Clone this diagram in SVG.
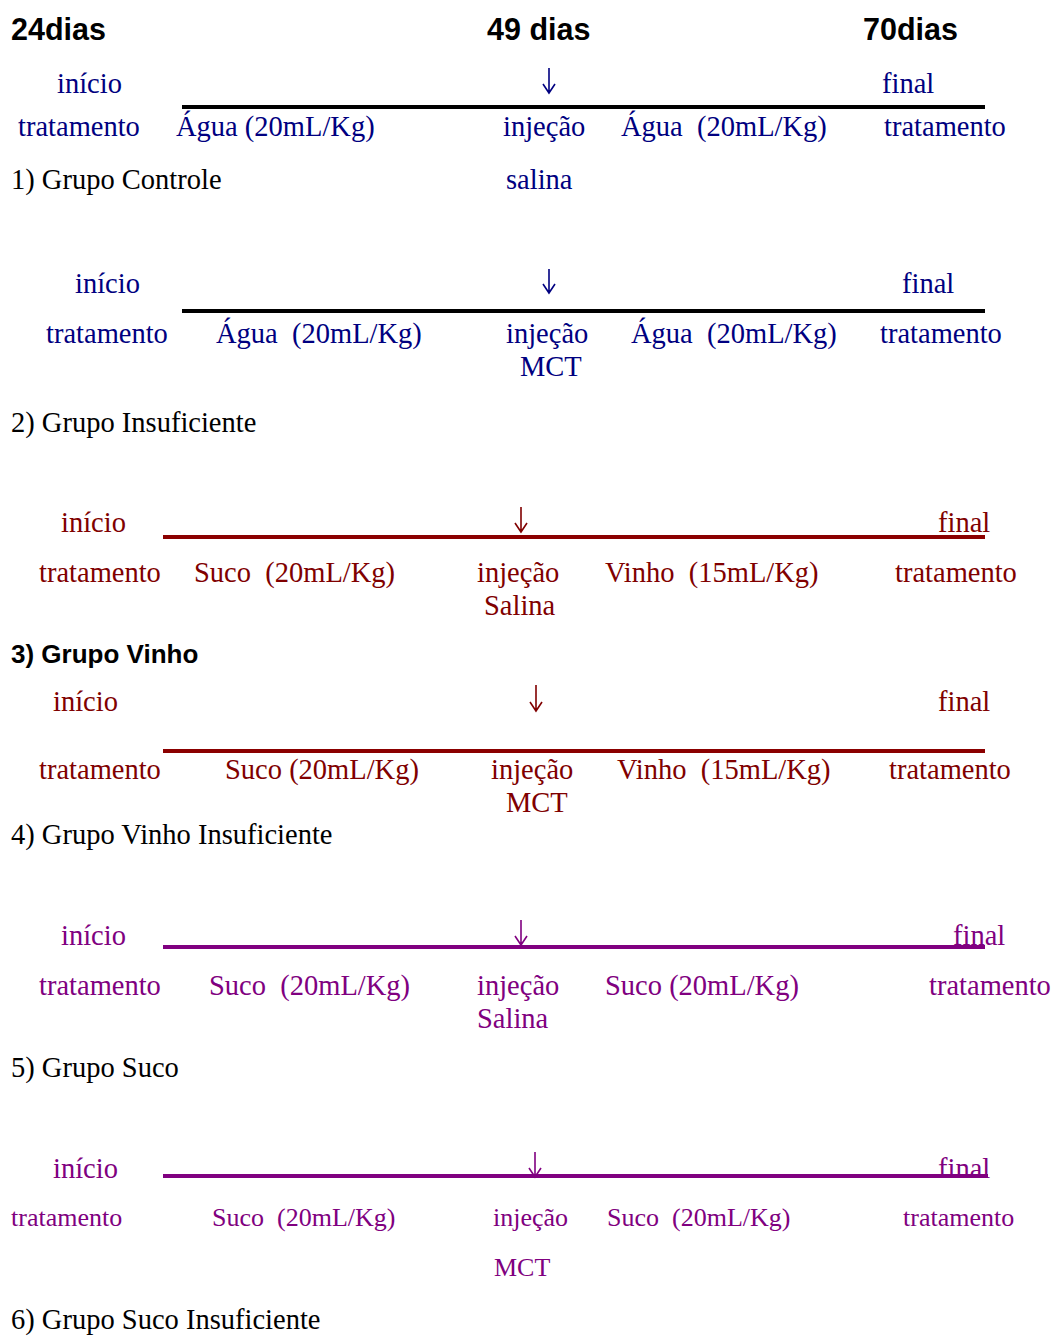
<svg xmlns="http://www.w3.org/2000/svg" width="1055" height="1336" viewBox="0 0 1055 1336">
<style>
text{font-family:"Liberation Serif","Times New Roman",serif;font-size:28.5px;white-space:pre}
.h{font-family:"Liberation Sans",Arial,sans-serif;font-weight:bold;font-size:30.5px;fill:#000}
.hb{font-family:"Liberation Sans",Arial,sans-serif;font-weight:bold;font-size:26px;fill:#000}
.k{fill:#000}
.b{fill:#000080}
.r{fill:#800000}
.p{fill:#800080}
.s{font-size:26px}
.ab{fill:none;stroke:#000080;stroke-width:1.6}
.arr{fill:none;stroke:#800000;stroke-width:1.6}
.ap{fill:none;stroke:#800080;stroke-width:1.6}
.lk{stroke:#000;stroke-width:4}
.lr{stroke:#8B0000;stroke-width:4}
.lp{stroke:#800080;stroke-width:4}
</style>
<rect width="1055" height="1336" fill="#fff"/>
<g id="header">
<text class="h" x="11" y="40">24dias</text>
<text class="h" x="487" y="40">49 dias</text>
<text class="h" x="863" y="40">70dias</text>
</g>
<g id="connectors">
<line class="lk" x1="182" y1="107" x2="985" y2="107"/>
<line class="lk" x1="182" y1="311" x2="985" y2="311"/>
<line class="lr" x1="163" y1="537" x2="985" y2="537"/>
<line class="lr" x1="163" y1="751" x2="985" y2="751"/>
<line class="lp" x1="163" y1="947" x2="985" y2="947"/>
<line class="lp" x1="163" y1="1176" x2="988" y2="1176"/>
</g>
<g id="grupo1" class="b">
<text x="57" y="93">início</text>
<path class="ab" d="M549,68V93M543,84L549,93L555,84"/>
<text x="882" y="93">final</text>
<text x="18" y="136">tratamento</text>
<text x="176" y="136">Água (20mL/Kg)</text>
<text x="503" y="136">injeção</text>
<text x="621" y="136">Água  (20mL/Kg)</text>
<text x="884" y="136">tratamento</text>
<text class="k" x="11" y="189">1) Grupo Controle</text>
<text x="506" y="189">salina</text>
</g>
<g id="grupo2" class="b">
<text x="75" y="293">início</text>
<path class="ab" d="M549,269V293M543,284L549,293L555,284"/>
<text x="902" y="293">final</text>
<text x="46" y="343">tratamento</text>
<text x="216" y="343">Água  (20mL/Kg)</text>
<text x="506" y="343">injeção</text>
<text x="520" y="376">MCT</text>
<text x="631" y="343">Água  (20mL/Kg)</text>
<text x="880" y="343">tratamento</text>
<text class="k" x="11" y="432">2) Grupo Insuficiente</text>
</g>
<g id="grupo3" class="r">
<text x="61" y="532">início</text>
<path class="arr" d="M521,507V532M515,523L521,532L527,523"/>
<text x="938" y="532">final</text>
<text x="39" y="582">tratamento</text>
<text x="194" y="582">Suco  (20mL/Kg)</text>
<text x="477" y="582">injeção</text>
<text x="484" y="615">Salina</text>
<text x="605" y="582">Vinho  (15mL/Kg)</text>
<text x="895" y="582">tratamento</text>
<text class="hb" x="11" y="663">3) Grupo Vinho</text>
</g>
<g id="grupo4" class="r">
<text x="53" y="711">início</text>
<path class="arr" d="M536,685V711M530,702L536,711L542,702"/>
<text x="938" y="711">final</text>
<text x="39" y="779">tratamento</text>
<text x="225" y="779">Suco (20mL/Kg)</text>
<text x="491" y="779">injeção</text>
<text x="506" y="812">MCT</text>
<text x="617" y="779">Vinho  (15mL/Kg)</text>
<text x="889" y="779">tratamento</text>
<text class="k" x="11" y="844">4) Grupo Vinho Insuficiente</text>
</g>
<g id="grupo5" class="p">
<text x="61" y="945">início</text>
<path class="ap" d="M521,920V945M515,936L521,945L527,936"/>
<text x="953" y="945">final</text>
<text x="39" y="995">tratamento</text>
<text x="209" y="995">Suco  (20mL/Kg)</text>
<text x="477" y="995">injeção</text>
<text x="477" y="1028">Salina</text>
<text x="605" y="995">Suco (20mL/Kg)</text>
<text x="929" y="995">tratamento</text>
<text class="k" x="11" y="1077">5) Grupo Suco</text>
</g>
<g id="grupo6" class="p">
<text x="53" y="1178">início</text>
<path class="ap" d="M535,1152V1177M529,1168L535,1177L541,1168"/>
<text x="938" y="1178">final</text>
<text class="s" x="11" y="1226">tratamento</text>
<text class="s" x="212" y="1226">Suco  (20mL/Kg)</text>
<text class="s" x="493" y="1226">injeção</text>
<text class="s" x="494" y="1276">MCT</text>
<text class="s" x="607" y="1226">Suco  (20mL/Kg)</text>
<text class="s" x="903" y="1226">tratamento</text>
<text class="k" x="11" y="1329">6) Grupo Suco Insuficiente</text>
</g>
</svg>
